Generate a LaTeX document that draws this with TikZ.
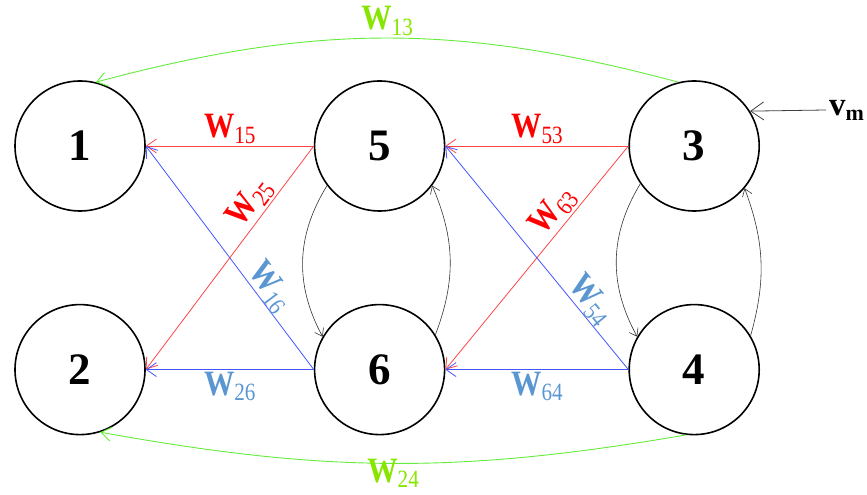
\documentclass[tikz,border=0pt]{standalone}
\usepackage{fontspec}
\setmainfont{Liberation Serif}
\usetikzlibrary{positioning,arrows.meta}
\definecolor{wred}{RGB}{255,70,70}
\definecolor{wblue}{RGB}{70,85,255}
\definecolor{lblue}{RGB}{90,150,210}
\definecolor{wgreen}{RGB}{100,235,60}
\definecolor{lgreen}{RGB}{135,230,0}
\newcommand{\wname}[1]{\scalebox{0.92}[1.08]{W\raisebox{-5pt}{\fontsize{23}{23}\selectfont\mdseries #1}}}

\begin{document}
\begin{tikzpicture}[x=1pt, y=1pt, node distance=92pt and 168pt,
    >={Straight Barb[length=10pt,width=14pt]},
    neuron/.style={draw, circle, line width=1.6pt, minimum size=130pt, inner sep=0pt,
      font=\fontsize{45}{45}\selectfont\bfseries},
    wlab/.style={font=\fontsize{33}{33}\selectfont\bfseries, inner sep=2pt},
    redw/.style={draw=wred, ->, line width=0.8pt},
    bluew/.style={draw=wblue, ->, line width=0.8pt},
    greenw/.style={draw=wgreen, ->, line width=0.9pt},
    loopw/.style={draw=black!80, line width=0.6pt, -{Straight Barb[length=7pt,width=10pt]}}]

  \useasboundingbox (0,0) rectangle (867,495);

  \node[neuron] (n1) at (80,349) {1};
  \node[neuron, right=168pt of n1] (n5) {5};
  \node[neuron, right=183pt of n5] (n3) {3};
  \node[neuron, below=92pt of n1] (n2) {2};
  \node[neuron, below=92pt of n5] (n6) {6};
  \node[neuron, below=92pt of n3] (n4) {4};

  % input
  \node[font=\fontsize{33}{33}\selectfont\bfseries, anchor=west, inner sep=3pt] (vm) at (826,385)
    {v\raisebox{-5pt}{\fontsize{22}{22}\selectfont m}};
  \draw[draw=black!75, line width=0.8pt, -{Straight Barb[length=13pt,width=18pt]}] (vm.west) -- (n3.32);

  % red weights
  \draw[redw] (n5.west) -- node[wlab, text=red, above] {\wname{15}} (n1.east);
  \draw[redw] (n5.west) -- node[wlab, text=red, sloped, above, pos=0.3] {\wname{25}} (n2.east);
  \draw[redw] (n3.west) -- node[wlab, text=red, above] {\wname{53}} (n5.east);
  \draw[redw] (n3.west) -- node[wlab, text=red, sloped, above, pos=0.34] {\wname{63}} (n6.east);

  % blue weights
  \draw[bluew] (n6.west) -- node[wlab, text=lblue, sloped, above, pos=0.33, inner sep=0pt] {\wname{16}} (n1.east);
  \draw[bluew] (n6.west) -- node[wlab, text=lblue, below] {\wname{26}} (n2.east);
  \draw[bluew] (n4.west) -- node[wlab, text=lblue, sloped, above, pos=0.27, inner sep=0pt] {\wname{54}} (n5.east);
  \draw[bluew] (n4.west) -- node[wlab, text=lblue, below] {\wname{64}} (n6.east);

  % green weights
  \draw[greenw] (n3.104) to[bend right=15] node[wlab, text=lgreen, above] {\wname{13}} (n1.76);
  \draw[greenw] (n4.263) to[bend left=10] node[wlab, text=lgreen, below=-5pt, inner sep=0pt] {\wname{24}} (n2.-72);

  % loops between pairs
  \draw[loopw] (n5.217) to[bend right=30] (n6.150);
  \draw[loopw] (n6.32) to[bend right=22] (n5.-37);
  \draw[loopw] (n3.215) to[bend right=30] (n4.150);
  \draw[loopw] (n4.31) to[bend right=18] (n3.-40);
\end{tikzpicture}
\end{document}
